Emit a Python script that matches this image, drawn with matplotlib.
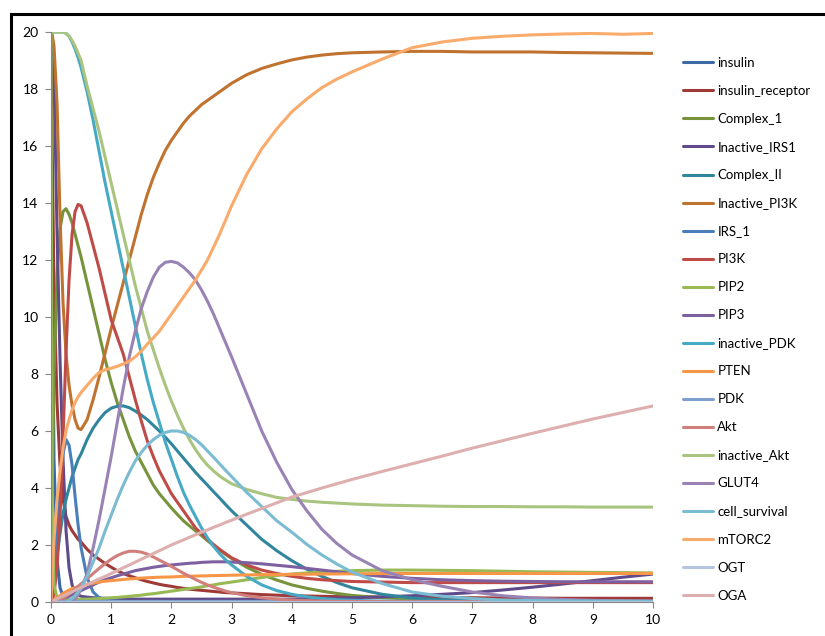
import matplotlib
matplotlib.use("Agg")
import matplotlib.pyplot as plt
from matplotlib.patches import Rectangle

plt.rcParams['font.family'] = ['Lato', 'DejaVu Sans']

# time points
t = [0, 0.02, 0.05, 0.1, 0.15, 0.2, 0.25, 0.3, 0.35, 0.4, 0.45, 0.5,
     0.6, 0.7, 0.8, 0.9, 1.0, 1.1, 1.2, 1.3, 1.4, 1.5, 1.6, 1.7, 1.8, 1.9, 2.0,
     2.1, 2.2, 2.3, 2.4, 2.5, 2.6, 2.7, 2.8, 2.9, 3.0,
     3.25, 3.5, 3.75, 4.0, 4.25, 4.5, 4.75, 5.0,
     5.5, 6.0, 6.5, 7.0, 7.5, 8.0, 8.5, 9.0, 9.5, 10.0]

insulin = [20, 12, 5, 1.5, 0.5, 0.2, 0.1, 0.05, 0.03, 0.02, 0.01, 0,
           0, 0, 0, 0, 0, 0, 0, 0, 0, 0, 0, 0, 0, 0, 0,
           0, 0, 0, 0, 0, 0, 0, 0, 0, 0,
           0, 0, 0, 0, 0, 0, 0, 0,
           0, 0, 0, 0, 0, 0, 0, 0, 0, 0]
insulin_receptor = [20, 16, 11, 7, 4.8, 3.6, 3.0, 2.7, 2.5, 2.35, 2.2, 2.1,
                    1.85, 1.65, 1.5, 1.35, 1.22, 1.1, 1.0, 0.92, 0.85, 0.78, 0.72, 0.67, 0.62, 0.58, 0.55,
                    0.51, 0.48, 0.45, 0.43, 0.41, 0.39, 0.37, 0.35, 0.33, 0.32,
                    0.29, 0.26, 0.24, 0.22, 0.21, 0.2, 0.19, 0.18,
                    0.17, 0.16, 0.15, 0.15, 0.14, 0.14, 0.13, 0.13, 0.13, 0.13]
complex_1 = [0, 4, 8, 11.5, 13.1, 13.7, 13.8, 13.6, 13.3, 12.9, 12.5, 12.1,
             11.2, 10.3, 9.4, 8.5, 7.7, 7.0, 6.4, 5.8, 5.3, 4.9, 4.5, 4.1, 3.8, 3.55, 3.3,
             3.07, 2.85, 2.67, 2.5, 2.33, 2.15, 1.98, 1.82, 1.67, 1.53,
             1.22, 0.97, 0.77, 0.6, 0.48, 0.38, 0.3, 0.23,
             0.15, 0.1, 0.06, 0.04, 0.03, 0.02, 0.02, 0.01, 0.01, 0.01]
inactive_irs1 = [20, 19.8, 18.5, 13, 8.5, 5, 2.5, 1.2, 0.6, 0.35, 0.25, 0.2,
                 0.17, 0.15, 0.14, 0.13, 0.12, 0.12, 0.11, 0.11, 0.1, 0.1, 0.1, 0.1, 0.1, 0.1, 0.1,
                 0.1, 0.1, 0.1, 0.1, 0.1, 0.1, 0.1, 0.1, 0.1, 0.1,
                 0.1, 0.1, 0.1, 0.1, 0.11, 0.12, 0.13, 0.15,
                 0.18, 0.22, 0.27, 0.33, 0.42, 0.52, 0.63, 0.75, 0.87, 0.98]
complex_ii = [0, 0.3, 0.8, 1.6, 2.4, 3.1, 3.6, 4.0, 4.4, 4.7, 5.0, 5.2,
              5.7, 6.1, 6.4, 6.65, 6.8, 6.87, 6.88, 6.82, 6.7, 6.56, 6.4, 6.2, 6.0, 5.78, 5.55,
              5.3, 5.05, 4.8, 4.55, 4.32, 4.1, 3.87, 3.65, 3.42, 3.2,
              2.7, 2.2, 1.8, 1.45, 1.15, 0.9, 0.68, 0.5,
              0.27, 0.14, 0.08, 0.04, 0.03, 0.02, 0.01, 0.01, 0.01, 0.01]
inactive_pi3k = [20, 19.9, 19.5, 17.5, 13.5, 10.5, 8.7, 7.6, 6.9, 6.4, 6.1, 6.05,
                 6.4, 7.1, 7.9, 8.75, 9.6, 10.4, 11.2, 12.0, 12.8, 13.6, 14.3, 14.9, 15.4, 15.85, 16.2,
                 16.5, 16.8, 17.05, 17.25, 17.45, 17.6, 17.75, 17.9, 18.05, 18.2,
                 18.5, 18.72, 18.88, 19.02, 19.12, 19.19, 19.24, 19.27,
                 19.3, 19.32, 19.32, 19.3, 19.3, 19.3, 19.28, 19.27, 19.26, 19.25]
irs_1 = [0, 0.3, 1.0, 2.5, 4.0, 5.2, 5.7, 5.5, 4.8, 3.7, 2.7, 1.9,
         0.85, 0.35, 0.15, 0.07, 0.04, 0.03, 0.02, 0.01, 0.01, 0, 0, 0, 0, 0, 0,
         0, 0, 0, 0, 0, 0, 0, 0, 0, 0,
         0, 0, 0, 0, 0, 0, 0, 0,
         0, 0, 0, 0, 0, 0, 0, 0, 0, 0]
pi3k = [0, 0.05, 0.3, 1.2, 3.0, 5.8, 8.8, 11.3, 12.9, 13.7, 13.95, 13.9,
        13.3, 12.5, 11.7, 10.8, 9.9, 9.3, 8.7, 7.9, 7.1, 6.35, 5.65, 5.1, 4.6, 4.2, 3.8,
        3.5, 3.2, 2.9, 2.6, 2.4, 2.2, 2.02, 1.85, 1.7, 1.55,
        1.3, 1.12, 1.0, 0.9, 0.83, 0.78, 0.75, 0.72,
        0.7, 0.68, 0.68, 0.68, 0.68, 0.68, 0.68, 0.68, 0.68, 0.68]
pip2 = [20, 3, 0.6, 0.15, 0.1, 0.1, 0.1, 0.1, 0.1, 0.1, 0.1, 0.1,
        0.1, 0.11, 0.12, 0.13, 0.15, 0.16, 0.18, 0.2, 0.22, 0.24, 0.27, 0.29, 0.32, 0.35, 0.38,
        0.41, 0.44, 0.47, 0.5, 0.53, 0.57, 0.6, 0.64, 0.67, 0.7,
        0.78, 0.86, 0.93, 0.98, 1.02, 1.05, 1.08, 1.1,
        1.12, 1.12, 1.11, 1.1, 1.08, 1.06, 1.05, 1.04, 1.03, 1.02]
pip3 = [0, 0, 0.02, 0.05, 0.08, 0.12, 0.16, 0.2, 0.25, 0.3, 0.35, 0.4,
        0.5, 0.6, 0.7, 0.78, 0.85, 0.92, 0.98, 1.04, 1.1, 1.14, 1.18, 1.22, 1.25, 1.28, 1.3,
        1.32, 1.34, 1.36, 1.37, 1.39, 1.4, 1.41, 1.41, 1.41, 1.4,
        1.38, 1.34, 1.29, 1.24, 1.18, 1.12, 1.06, 1.0,
        0.9, 0.83, 0.78, 0.75, 0.73, 0.72, 0.71, 0.71, 0.71, 0.71]
inactive_pdk = [20, 20, 20, 20, 20, 20, 19.95, 19.85, 19.65, 19.4, 19.1, 18.75,
                17.9, 16.9, 15.8, 14.7, 13.7, 12.7, 11.7, 10.7, 9.7, 8.7, 7.8, 7.0, 6.3, 5.6, 5.0,
                4.4, 3.85, 3.4, 3.0, 2.6, 2.25, 1.95, 1.7, 1.48, 1.3,
                0.9, 0.6, 0.4, 0.27, 0.18, 0.12, 0.08, 0.06,
                0.03, 0.02, 0.02, 0.02, 0.02, 0.02, 0.02, 0.02, 0.02, 0.02]
pten = [0, 0.03, 0.08, 0.15, 0.22, 0.3, 0.36, 0.42, 0.47, 0.5, 0.54, 0.57,
        0.62, 0.66, 0.7, 0.73, 0.75, 0.77, 0.79, 0.81, 0.82, 0.84, 0.85, 0.86, 0.87, 0.875, 0.88,
        0.89, 0.9, 0.905, 0.91, 0.915, 0.92, 0.925, 0.93, 0.935, 0.94,
        0.95, 0.96, 0.96, 0.97, 0.975, 0.98, 0.985, 0.99,
        1.0, 1.0, 1.0, 1.0, 1.0, 1.0, 1.0, 1.0, 1.0, 1.0]
pdk = [0, 0, 0.01, 0.01, 0.02, 0.02, 0.02, 0.02, 0.02, 0.02, 0.02, 0.02,
       0.02, 0.02, 0.02, 0.02, 0.02, 0.02, 0.02, 0.02, 0.02, 0.02, 0.02, 0.02, 0.02, 0.02, 0.02,
       0.02, 0.02, 0.02, 0.02, 0.02, 0.02, 0.02, 0.02, 0.02, 0.02,
       0.02, 0.02, 0.02, 0.02, 0.02, 0.02, 0.02, 0.02,
       0.02, 0.02, 0.02, 0.02, 0.02, 0.02, 0.02, 0.02, 0.02, 0.02]
akt = [0, 0, 0.01, 0.03, 0.07, 0.13, 0.2, 0.28, 0.37, 0.46, 0.55, 0.64,
       0.82, 1.0, 1.18, 1.35, 1.5, 1.63, 1.72, 1.78, 1.78, 1.75, 1.68, 1.58, 1.47, 1.36, 1.25,
       1.13, 1.01, 0.9, 0.79, 0.69, 0.6, 0.52, 0.45, 0.38, 0.33,
       0.22, 0.15, 0.1, 0.07, 0.05, 0.03, 0.02, 0.02,
       0.01, 0.01, 0.01, 0.01, 0.01, 0.01, 0.01, 0.01, 0.01, 0.01]
inactive_akt = [20, 20, 20, 20, 20, 20, 19.95, 19.85, 19.7, 19.5, 19.25, 19.0,
                18.1, 17.3, 16.5, 15.6, 14.7, 13.8, 12.9, 12.0, 11.1, 10.3, 9.5, 8.85, 8.2, 7.6, 7.05,
                6.55, 6.1, 5.7, 5.35, 5.05, 4.8, 4.6, 4.42, 4.28, 4.15,
                3.95, 3.8, 3.67, 3.6, 3.54, 3.5, 3.47, 3.44,
                3.4, 3.38, 3.36, 3.35, 3.35, 3.34, 3.34, 3.33, 3.33, 3.33]
glut4 = [0, 0, 0, 0, 0, 0, 0, 0, 0.03, 0.1, 0.25, 0.45,
         1.0, 1.9, 2.9, 4.0, 5.1, 6.3, 7.5, 8.6, 9.5, 10.3, 10.9, 11.4, 11.75, 11.92, 11.95,
         11.9, 11.75, 11.55, 11.3, 10.95, 10.55, 10.1, 9.6, 9.1, 8.6,
         7.3, 6.0, 4.9, 3.95, 3.2, 2.55, 2.05, 1.65,
         1.1, 0.78, 0.55, 0.35, 0.22, 0.14, 0.09, 0.06, 0.04, 0.03]
cell_survival = [0, 0, 0, 0, 0, 0, 0, 0.05, 0.12, 0.22, 0.35, 0.5,
                 0.9, 1.4, 1.9, 2.5, 3.05, 3.6, 4.1, 4.55, 4.95, 5.25, 5.5, 5.7, 5.85, 5.95, 6.0,
                 6.0, 5.95, 5.85, 5.7, 5.52, 5.3, 5.08, 4.85, 4.62, 4.4,
                 3.85, 3.35, 2.85, 2.45, 2.02, 1.65, 1.33, 1.05,
                 0.65, 0.35, 0.2, 0.12, 0.07, 0.05, 0.04, 0.03, 0.03, 0.02]
mtorc2 = [0, 1.0, 2.2, 3.6, 4.6, 5.4, 6.0, 6.4, 6.75, 7.0, 7.2, 7.35,
          7.6, 7.85, 8.05, 8.15, 8.2, 8.27, 8.35, 8.45, 8.6, 8.8, 9.05, 9.27, 9.5, 9.8, 10.1,
          10.4, 10.7, 11.0, 11.3, 11.65, 12.0, 12.45, 12.9, 13.4, 13.9,
          15.0, 15.9, 16.6, 17.2, 17.65, 18.05, 18.35, 18.6,
          19.05, 19.45, 19.65, 19.78, 19.85, 19.9, 19.93, 19.95, 19.92, 19.95]
ogt = [0, 0, 0, 0, 0, 0, 0, 0, 0, 0, 0, 0,
       0, 0, 0, 0, 0, 0, 0, 0, 0, 0, 0, 0, 0, 0, 0,
       0, 0, 0, 0, 0, 0, 0, 0, 0, 0,
       0, 0, 0, 0, 0, 0, 0, 0,
       0, 0, 0, 0, 0, 0, 0, 0, 0, 0]
oga = [0, 0.02, 0.05, 0.11, 0.16, 0.21, 0.26, 0.31, 0.36, 0.41, 0.46, 0.51,
       0.61, 0.71, 0.81, 0.9, 1.0, 1.1, 1.2, 1.3, 1.4, 1.5, 1.6, 1.7, 1.8, 1.9, 2.0,
       2.09, 2.18, 2.27, 2.36, 2.45, 2.53, 2.62, 2.7, 2.79, 2.87,
       3.08, 3.28, 3.48, 3.68, 3.84, 4.0, 4.15, 4.3,
       4.58, 4.85, 5.12, 5.4, 5.66, 5.92, 6.17, 6.42, 6.65, 6.88]

names = ["insulin", "insulin_receptor", "Complex_1", "Inactive_IRS1", "Complex_II",
         "Inactive_PI3K", "IRS_1", "PI3K", "PIP2", "PIP3", "inactive_PDK", "PTEN", "PDK",
         "Akt", "inactive_Akt", "GLUT4", "cell_survival", "mTORC2", "OGT", "OGA"]
series = [insulin, insulin_receptor, complex_1, inactive_irs1, complex_ii, inactive_pi3k,
          irs_1, pi3k, pip2, pip3, inactive_pdk, pten, pdk, akt, inactive_akt, glut4,
          cell_survival, mtorc2, ogt, oga]
colors = ["#3D6AA5", "#9E3B38", "#77933C", "#5F4B8B", "#31859C", "#C0722F",
          "#4A7EBB", "#BE4B48", "#98B954", "#7D60A0", "#46AAC5", "#F79646",
          "#7F9FCF", "#D07F7D", "#A9C47F", "#9983B5", "#7BBCD3", "#F9AB6B",
          "#B3C5E0", "#DDAFAE"]

fig = plt.figure(figsize=(8.25, 6.36), dpi=100)
ax = fig.add_axes([51/825, 1-602/636, (653-51)/825, (602-32)/636])

for name, y, c in zip(names, series, colors):
    ax.plot(t, y, color=c, lw=2.2, label=name, solid_capstyle="round", solid_joinstyle="round")

ax.set_xlim(0, 10)
ax.set_ylim(0, 20)
ax.set_xticks(range(0, 11))
ax.set_yticks(range(0, 21, 2))
for s in ["top", "right"]:
    ax.spines[s].set_visible(False)
for s in ["left", "bottom"]:
    ax.spines[s].set_color("#868686")
    ax.spines[s].set_linewidth(0.8)
ax.tick_params(direction="out", length=4, width=0.8, color="#868686", labelsize=10, pad=5)

leg = ax.legend(loc="upper left", bbox_to_anchor=(683/825, 1-57/636), bbox_transform=fig.transFigure,
                frameon=False, fontsize=9.5, handlelength=2.3, handletextpad=0.3,
                labelspacing=1.215, borderpad=0, borderaxespad=0)

# outer chart border
fig.patches.append(Rectangle((11/825, -0.1), 1.2, 1.1 - 14/636, transform=fig.transFigure,
                             fill=False, edgecolor="black", lw=2.2))

fig.savefig("out.png", dpi=100)
